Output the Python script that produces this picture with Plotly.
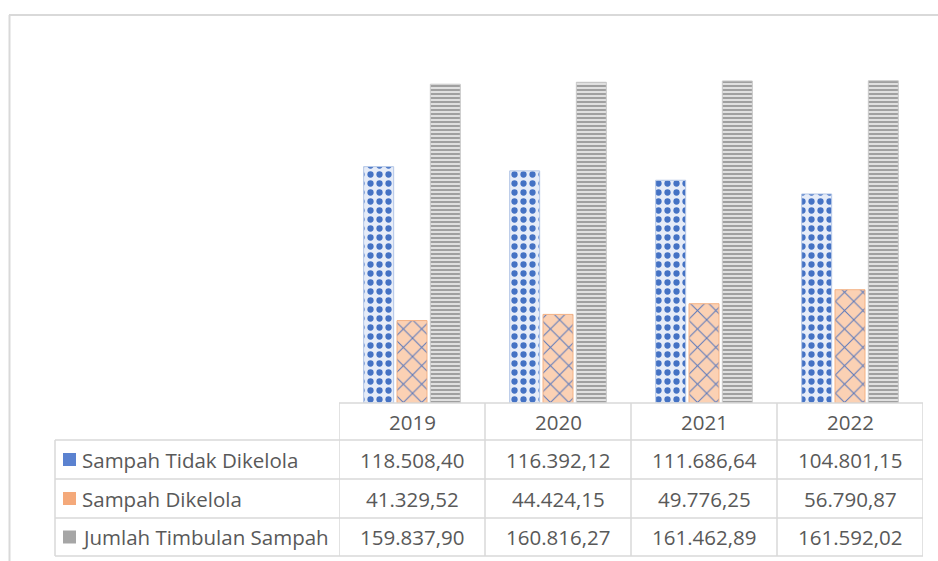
import plotly.graph_objects as go

years = ["2019", "2020", "2021", "2022"]
series_names = ["Sampah Tidak Dikelola", "Sampah Dikelola", "Jumlah Timbulan Sampah"]
tidak_dikelola = [118508.40, 116392.12, 111686.64, 104801.15]
dikelola = [41329.52, 44424.15, 49776.25, 56790.87]
jumlah = [159837.90, 160816.27, 161462.89, 161592.02]
all_series = [tidak_dikelola, dikelola, jumlah]

W, H = 938, 561
L, R, T, B = 339, 15, 44, 158
PW, PH = W - L - R, H - T - B


def px(x):
    return (x - L) / PW


def py(y):
    return (H - B - y) / PH


def fmt(v):
    s = f"{v:,.2f}"
    return s.replace(",", "#").replace(".", ",").replace("#", ".")


styles = [
    dict(bg="#e6ecf8", fg="#4472c4", shape=".", size=9, sol=0.38, line="#b4c7e7", sw="#5b82d0"),
    dict(bg="#fbd1b4", fg="#5a78bc", shape="x", size=13, sol=0.15, line="#f4b183", sw="#f4a97a"),
    dict(bg="#e0e0e0", fg="#a0a0a0", shape="-", size=4, sol=0.5, line="#c9c9c9", sw="#a6a6a6"),
]

fig = go.Figure()
for name, vals, st in zip(series_names, all_series, styles):
    fig.add_trace(go.Bar(
        x=years, y=vals, name=name,
        marker=dict(
            color=st["bg"],
            line=dict(color=st["line"], width=1),
            pattern=dict(shape=st["shape"], fgcolor=st["fg"], bgcolor=st["bg"],
                         size=st["size"], solidity=st["sol"], fillmode="replace"),
        ),
        hoverinfo="skip",
    ))

grid = "#d9d9d9"
shapes = []
# outer chart border (top and left)
shapes.append(dict(type="line", xref="paper", yref="paper", x0=px(9), x1=px(938), y0=py(15), y1=py(15),
                   line=dict(color=grid, width=2)))
shapes.append(dict(type="line", xref="paper", yref="paper", x0=px(9.5), x1=px(9.5), y0=py(15), y1=py(561),
                   line=dict(color=grid, width=2)))
# table horizontal lines
shapes.append(dict(type="line", xref="paper", yref="paper", x0=px(339), x1=px(923), y0=py(403), y1=py(403),
                   line=dict(color=grid, width=1.5)))
for yy in [440, 479, 518, 556]:
    shapes.append(dict(type="line", xref="paper", yref="paper", x0=px(55), x1=px(923), y0=py(yy), y1=py(yy),
                       line=dict(color=grid, width=1.5)))
# table vertical lines
shapes.append(dict(type="line", xref="paper", yref="paper", x0=px(55), x1=px(55), y0=py(440), y1=py(556),
                   line=dict(color=grid, width=1.5)))
for i in range(len(years) + 1):
    shapes.append(dict(type="line", xref="x", yref="paper", x0=i - 0.5, x1=i - 0.5, y0=py(403), y1=py(556),
                       line=dict(color=grid, width=1.5)))

font = dict(family="Open Sans, sans-serif", size=20.5, color="#595959")
annotations = []
for i, yr in enumerate(years):
    annotations.append(dict(x=i, y=py(421.5), xref="x", yref="paper", text=yr, showarrow=False, font=font,
                            xanchor="center", yanchor="middle"))
row_y = [459.5, 498.5, 537]
for r, (name, vals, st) in enumerate(zip(series_names, all_series, styles)):
    yc = row_y[r]
    shapes.append(dict(type="rect", xref="paper", yref="paper", x0=px(63), x1=px(76), y0=py(yc - 6.5),
                       y1=py(yc + 6.5), fillcolor=st["sw"], line=dict(width=0)))
    annotations.append(dict(x=px(80), y=py(yc), xref="paper", yref="paper", text=name, showarrow=False,
                            xanchor="left", yanchor="middle", font=font))
    for i in range(len(years)):
        annotations.append(dict(x=i, y=py(yc), xref="x", yref="paper", text=fmt(vals[i]), showarrow=False,
                                xanchor="center", yanchor="middle", font=font))

fig.update_layout(
    width=W, height=H,
    margin=dict(l=L, r=R, t=T, b=B),
    paper_bgcolor="white", plot_bgcolor="white",
    barmode="group", bargap=0.315, bargroupgap=0.1,
    showlegend=False,
    xaxis=dict(type="category", range=[-0.5, len(years) - 0.5], showticklabels=False, showgrid=False,
               zeroline=False, showline=False, ticks=""),
    yaxis=dict(range=[0, 180000], visible=False, showgrid=False),
    shapes=shapes, annotations=annotations,
)

fig.write_html("out.html", config={"displayModeBar": False},
               post_script="document.body.style.margin='0';")
